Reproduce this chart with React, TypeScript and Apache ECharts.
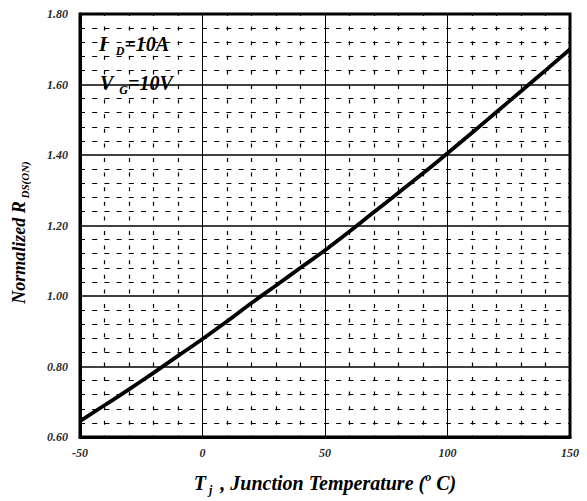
import { useEffect, useRef } from "react";
import * as echarts from "echarts";

// Junction temperature (°C)
const temperatures = [-50, -40, -30, -20, -10, 0, 10, 20, 30, 40, 50, 60, 70, 80, 90, 100, 110, 120, 130, 140, 150];
// Normalized R_DS(ON)
const normalizedRds = [0.645, 0.69, 0.735, 0.782, 0.83, 0.878, 0.928, 0.98, 1.03, 1.08, 1.13, 1.183, 1.238, 1.293, 1.348, 1.405, 1.463, 1.522, 1.581, 1.64, 1.7];

const xMin = -50;
const xMax = 150;
const xInterval = 50;
const yMin = 0.6;
const yMax = 1.8;
const yInterval = 0.2;

const FONT = '"Liberation Serif", "Times New Roman", Times, serif';

export default function App() {
  const ref = useRef<HTMLDivElement>(null);
  useEffect(() => {
    document.body.style.margin = "0";
    const chart = echarts.init(ref.current!, null, { renderer: "svg" });
    const labelStyle = {
      fontFamily: FONT,
      fontWeight: "bold" as const,
      fontStyle: "italic" as const,
      fontSize: 12,
      color: "#2a2a2a",
    };
    const big = { fontFamily: FONT, fontSize: 20, fontWeight: "bold" as const, fontStyle: "italic" as const };
    const small = { fontFamily: FONT, fontSize: 12, fontWeight: "bold" as const, fontStyle: "italic" as const };
    chart.setOption({
      animation: false,
      backgroundColor: "#ffffff",
      grid: {
        left: 80,
        right: 17,
        top: 14,
        bottom: 53,
        show: true,
        borderColor: "#000",
        borderWidth: 3,
        backgroundColor: "transparent",
      },
      xAxis: {
        type: "value",
        min: xMin,
        max: xMax,
        interval: xInterval,
        axisLine: { show: true, onZero: false, lineStyle: { color: "#000", width: 3 } },
        axisTick: { show: false },
        axisLabel: { ...labelStyle, margin: 10 },
        splitLine: { show: true, lineStyle: { color: "#000", width: 1 } },
        minorTick: { show: false, splitNumber: 5 },
        minorSplitLine: { show: true, lineStyle: { color: "#000", width: 1.2, type: [4, 10.6], dashOffset: 2 } },
        name: "{t|T}{s| j }{n| , Junction Temperature (}{o|o}{n| C)}",
        nameLocation: "middle",
        nameGap: 33,
        nameTextStyle: {
          fontFamily: FONT,
          rich: {
            t: { ...big, color: "#000" },
            n: { ...big, color: "#000" },
            s: { ...small, color: "#000", padding: [14, 0, 0, 0] },
            o: { ...small, color: "#000", padding: [0, 0, 12, 0] },
          },
        },
      },
      yAxis: {
        type: "value",
        min: yMin,
        max: yMax,
        interval: yInterval,
        axisLine: { show: true, onZero: false, lineStyle: { color: "#000", width: 3 } },
        axisTick: { show: false },
        axisLabel: {
          ...labelStyle,
          margin: 12,
          formatter: (v: number) => v.toFixed(2),
        },
        splitLine: { show: true, lineStyle: { color: "#000", width: 1.5 } },
        minorTick: { show: false, splitNumber: 5 },
        minorSplitLine: { show: true, lineStyle: { color: "#000", width: 1.2, type: [5, 7.2] } },
        name: "{a|Normalized R}{b| DS(ON)}",
        nameLocation: "middle",
        nameRotate: 90,
        nameGap: 50,
        nameTextStyle: {
          fontFamily: FONT,
          padding: [0, 14, 0, 0],
          rich: {
            a: { ...big, fontSize: 18, color: "#000" },
            b: { ...small, fontSize: 11, color: "#000", padding: [12, 0, 0, 0] },
          },
        },
      },
      series: [
        {
          type: "line",
          data: temperatures.map((t, i) => [t, normalizedRds[i]]),
          smooth: true,
          showSymbol: false,
          lineStyle: { color: "#000", width: 3.8 },
          z: 5,
        },
      ],
      graphic: [
        {
          type: "text",
          left: 99,
          top: 34,
          z: 10,
          style: {
            text: "{m|I}{s|   D}{m|=10A}",
            rich: {
              m: { ...big, fill: "#000" },
              s: { ...small, fill: "#000", padding: [13, 0, 0, 0] },
            },
          },
        },
        {
          type: "text",
          left: 100,
          top: 73,
          z: 10,
          style: {
            text: "{m|V}{s|  G}{m|=10V}",
            rich: {
              m: { ...big, fill: "#000" },
              s: { ...small, fill: "#000", padding: [13, 0, 0, 0] },
            },
          },
        },
      ],
    });
    return () => chart.dispose();
  }, []);
  return <div ref={ref} style={{ width: 587, height: 501 }} />;
}
